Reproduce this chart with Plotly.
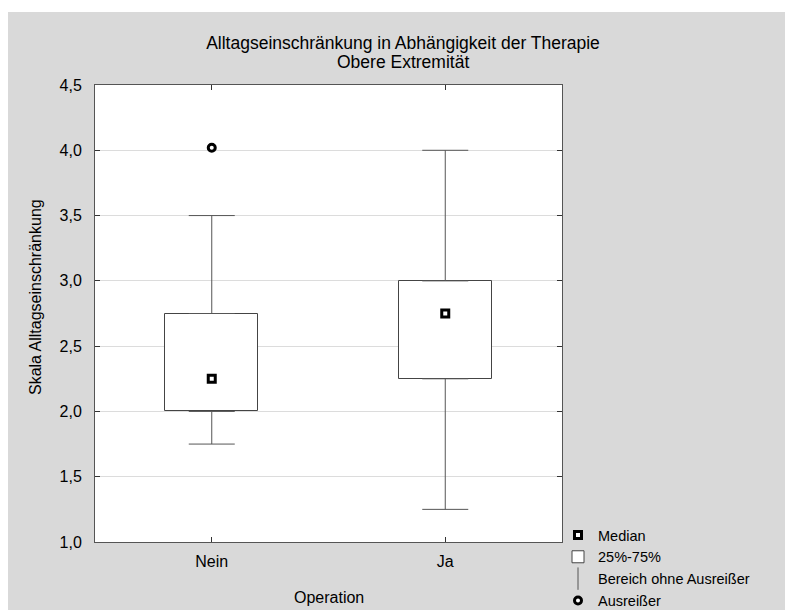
import plotly.graph_objects as go

# ---- data ----
categories = ["Nein", "Ja"]
q1 = [2.0, 2.25]
median = [2.25, 2.75]
q3 = [2.75, 3.0]
whisker_low = [1.75, 1.25]
whisker_high = [3.5, 4.0]
outlier_x = ["Nein"]
outlier_y = [4.02]

title_line1 = "Alltagseinschränkung in Abhängigkeit der Therapie"
title_line2 = "Obere Extremität"
x_title = "Operation"
y_title = "Skala Alltagseinschränkung"
y_ticks = [1.0, 1.5, 2.0, 2.5, 3.0, 3.5, 4.0, 4.5]

FONT = "Liberation Sans, Arial, sans-serif"
BOX_LINE = "#444444"
WHISK = "#555555"

box_height = [b - a for a, b in zip(q1, q3)]
upper_len = [h - t for h, t in zip(whisker_high, q3)]
lower_len = [b - l for b, l in zip(q1, whisker_low)]
zeros = [0 for _ in categories]

fig = go.Figure()

# whiskers (drawn from box edges outward)
fig.add_trace(go.Scatter(
    x=categories, y=q3, mode="markers",
    marker=dict(size=1, opacity=0),
    error_y=dict(type="data", symmetric=False, array=upper_len, arrayminus=zeros,
                 width=23, thickness=1, color=WHISK),
    showlegend=False, hoverinfo="skip"))
fig.add_trace(go.Scatter(
    x=categories, y=q1, mode="markers",
    marker=dict(size=1, opacity=0),
    error_y=dict(type="data", symmetric=False, array=zeros, arrayminus=lower_len,
                 width=23, thickness=1, color=WHISK),
    showlegend=False, hoverinfo="skip"))

# boxes 25%-75%
fig.add_trace(go.Bar(
    x=categories, y=box_height, base=q1, width=0.4,
    marker=dict(color="white", line=dict(color=BOX_LINE, width=1)),
    name="25%-75%", legendrank=2))

# medians
fig.add_trace(go.Scatter(
    x=categories, y=median, mode="markers",
    marker=dict(symbol="square", size=7, color="white", line=dict(color="black", width=3)),
    name="Median", legendrank=1))

# legend entry for whisker range
fig.add_trace(go.Scatter(
    x=[None], y=[None], mode="markers",
    marker=dict(symbol="line-ns-open", size=16, color=WHISK, line=dict(color=WHISK, width=1)),
    name="Bereich ohne Ausreißer", legendrank=3))

# outliers
fig.add_trace(go.Scatter(
    x=outlier_x, y=outlier_y, mode="markers",
    marker=dict(symbol="circle", size=7, color="white", line=dict(color="black", width=3)),
    name="Ausreißer", legendrank=4))

fig.update_layout(
    width=785, height=610, autosize=False,
    margin=dict(l=95, r=223, t=85, b=68, autoexpand=False),
    paper_bgcolor="#d9d9d9", plot_bgcolor="white",
    separators=",.",
    font=dict(family=FONT, size=16, color="black"),
    title=dict(text=title_line1, x=403 / 785, xref="container", xanchor="center",
               y=1 - 43 / 610, yref="container", yanchor="middle",
               font=dict(family=FONT, size=17.5, color="black")),
    showlegend=True,
    legend=dict(x=(558 - 95) / 467, xanchor="left", y=(542 - 519) / 457, yanchor="top",
                bgcolor="rgba(0,0,0,0)", font=dict(family=FONT, size=14.5, color="black"),
                tracegroupgap=0, itemwidth=30),
    xaxis=dict(type="category", range=[-0.5, 1.5], showgrid=False,
               showline=True, linecolor=WHISK, linewidth=1, mirror="ticks",
               ticks="inside", ticklen=5, tickcolor="#333333", ticklabelstandoff=5,
               tickfont=dict(family=FONT, size=16, color="black"), fixedrange=True),
    yaxis=dict(range=[1.0, 4.5], tickvals=y_ticks, tickformat=".1f",
               showgrid=True, gridcolor="#dcdcdc", gridwidth=1, zeroline=False,
               showline=True, linecolor=WHISK, linewidth=1, mirror="ticks",
               ticks="inside", ticklen=5, tickcolor="#333333", ticklabelstandoff=9,
               tickfont=dict(family=FONT, size=16, color="black"), fixedrange=True),
    bargap=0,
    annotations=[
        dict(text=title_line2, x=(403 - 95) / 467, xref="paper", y=(542 - 62) / 457, yref="paper",
             xanchor="center", yanchor="middle", showarrow=False,
             font=dict(family=FONT, size=17.5, color="black")),
        dict(text=x_title, x=0.5, xref="paper", y=(542 - 597) / 457, yref="paper",
             xanchor="center", yanchor="middle", showarrow=False,
             font=dict(family=FONT, size=16, color="black")),
        dict(text=y_title, x=(35 - 95) / 467, xref="paper", y=(542 - 297) / 457, yref="paper",
             xanchor="center", yanchor="middle", textangle=-90, showarrow=False,
             font=dict(family=FONT, size=16, color="black")),
    ],
    shapes=[
        dict(type="rect", xref="paper", yref="paper", layer="below",
             x0=-0.25, x1=(8 - 95) / 467, y0=-0.2, y1=1.25,
             fillcolor="white", line=dict(width=0)),
        dict(type="rect", xref="paper", yref="paper", layer="below",
             x0=-0.25, x1=1.55, y0=(542 - 12) / 457, y1=1.25,
             fillcolor="white", line=dict(width=0)),
    ],
)

fig.write_html(
    "out.html",
    config={"displayModeBar": False},
    post_script="document.body.style.margin='0';document.body.style.overflow='hidden';",
)
